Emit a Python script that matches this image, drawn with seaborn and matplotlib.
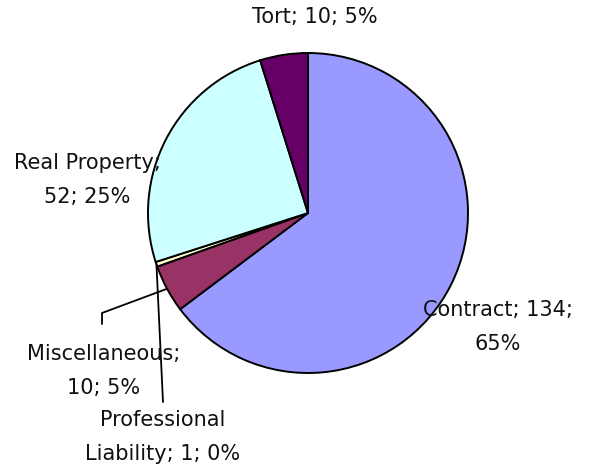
import numpy as np
import seaborn as sns
import matplotlib.pyplot as plt

# case types and counts
categories = ['Contract', 'Miscellaneous', 'Professional\nLiability', 'Real Property', 'Tort']
counts = [134, 10, 1, 52, 10]
slice_colors = ['#9999FF', '#993366', '#FFFFCC', '#CCFFFF', '#660066']

sns.set_theme(style='white')
plt.rcParams['font.family'] = ['DejaVu Sans']

W, H = 604, 472
fig = plt.figure(figsize=(W / 100, H / 100), dpi=100)
ax = fig.add_axes([0, 0, 1, 1])

cx, cy, r = 308, H - 213, 160
pal = sns.color_palette(slice_colors)
wedges, _ = ax.pie(counts, colors=pal, startangle=90, counterclock=False,
                   center=(cx, cy), radius=r, frame=True,
                   wedgeprops=dict(edgecolor='black', linewidth=1.4))
ax.set_xlim(0, W)
ax.set_ylim(0, H)
ax.set_aspect('equal')
ax.axis('off')

total = sum(counts)
pcts = [round(c / total * 100) for c in counts]


def label(i):
    name = categories[i]
    if name == 'Contract':
        return f'{name}; {counts[i]};\n{pcts[i]}%'
    if name in ('Real Property', 'Miscellaneous'):
        return f'{name};\n{counts[i]}; {pcts[i]}%'
    if name.startswith('Professional'):
        return f'Professional\nLiability; {counts[i]}; {pcts[i]}%'
    return f'{name}; {counts[i]}; {pcts[i]}%'


# label centres (pixel coords from top-left)
label_pos = [(498, 327), (104, 371), (163, 437), (87, 180), (315, 17)]
for i, (x, y) in enumerate(label_pos):
    ax.text(x, H - y, label(i), ha='center', va='center', fontsize=15,
            linespacing=1.85, color='#111111')


def anchor(i):
    w = wedges[i]
    a = np.deg2rad((w.theta1 + w.theta2) / 2)
    return cx + r * np.cos(a), cy + r * np.sin(a)


# leader lines
p = anchor(1)
ax.plot([p[0], 102, 102], [p[1], H - 313, H - 324], color='black', lw=1.3)
p = anchor(2)
ax.plot([p[0], 163], [p[1], H - 402], color='black', lw=1.3)

fig.savefig('out.png', dpi=100)
